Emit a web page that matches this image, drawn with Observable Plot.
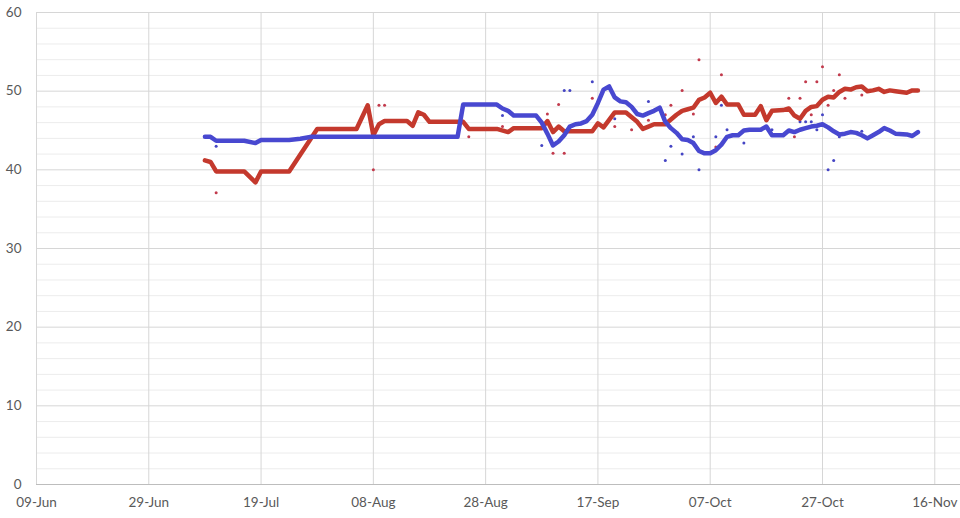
<!DOCTYPE html>
<html>
<head>
<meta charset="utf-8">
<script src="https://cdn.jsdelivr.net/npm/d3@7"></script>
<script src="https://cdn.jsdelivr.net/npm/@observablehq/plot@0.6"></script>
<style>
  body { margin: 0; background: #fff; }
  #chart svg { display: block; }
</style>
</head>
<body>
<div id="chart"></div>
<script>
const year = "2020"

// x ticks every 20 days, y ticks every 10 (minor every 2)
const xTicks = ["06-09", "06-29", "07-19", "08-08", "08-28", "09-17", "10-07", "10-27", "11-16"]
const yTicks = [0, 10, 20, 30, 40, 50, 60]
const yMinor = [2, 4, 6, 8, 12, 14, 16, 18, 22, 24, 26, 28, 32, 34, 36, 38, 42, 44, 46, 48, 52, 54, 56, 58]

// running average, red
const redLine = [
  ["07-09", 41.2], ["07-10", 41.0], ["07-11", 39.8], ["07-16", 39.8], ["07-18", 38.4], ["07-19", 39.8],
  ["07-24", 39.8], ["07-29", 45.2], ["08-05", 45.2], ["08-07", 48.2], ["08-08", 44.4], ["08-09", 45.8],
  ["08-10", 46.2], ["08-14", 46.2], ["08-15", 45.6], ["08-16", 47.3], ["08-17", 47.0], ["08-18", 46.1],
  ["08-24", 46.1], ["08-25", 45.2], ["08-30", 45.2], ["09-01", 44.8], ["09-02", 45.3], ["09-07", 45.3],
  ["09-08", 46.2], ["09-09", 44.8], ["09-10", 45.5], ["09-11", 44.9], ["09-16", 44.9], ["09-17", 45.9],
  ["09-18", 45.4], ["09-20", 47.3], ["09-22", 47.3], ["09-24", 46.1], ["09-25", 45.2], ["09-26", 45.5],
  ["09-27", 45.8], ["09-29", 45.8], ["09-30", 46.4], ["10-01", 47.0], ["10-02", 47.5], ["10-03", 47.7],
  ["10-04", 47.9], ["10-05", 48.9], ["10-06", 49.2], ["10-07", 49.8], ["10-08", 48.5], ["10-09", 49.3],
  ["10-10", 48.3], ["10-12", 48.3], ["10-13", 47.0], ["10-15", 47.0], ["10-16", 48.1], ["10-17", 46.3],
  ["10-18", 47.5], ["10-20", 47.6], ["10-21", 47.8], ["10-22", 46.9], ["10-23", 46.5], ["10-24", 47.5],
  ["10-25", 48.0], ["10-26", 48.1], ["10-27", 48.9], ["10-28", 49.3], ["10-29", 49.2], ["10-30", 49.9],
  ["10-31", 50.3], ["11-01", 50.2], ["11-02", 50.5], ["11-03", 50.6], ["11-04", 50.0], ["11-05", 50.1],
  ["11-06", 50.3], ["11-07", 49.9], ["11-08", 50.1], ["11-09", 50.0], ["11-10", 49.9], ["11-11", 49.8],
  ["11-12", 50.1], ["11-13", 50.1]
]

// running average, blue
const blueLine = [
  ["07-09", 44.2], ["07-10", 44.2], ["07-11", 43.7], ["07-16", 43.7], ["07-18", 43.4], ["07-19", 43.8],
  ["07-24", 43.8], ["07-26", 43.95], ["07-28", 44.2], ["08-23", 44.2], ["08-24", 48.3], ["08-30", 48.3],
  ["08-31", 47.8], ["09-01", 47.5], ["09-02", 46.9], ["09-06", 46.9], ["09-07", 46.0], ["09-08", 44.6],
  ["09-09", 43.1], ["09-10", 43.6], ["09-11", 44.4], ["09-12", 45.5], ["09-13", 45.8], ["09-14", 45.9],
  ["09-15", 46.2], ["09-16", 47.0], ["09-17", 48.5], ["09-18", 50.2], ["09-19", 50.6], ["09-20", 49.2],
  ["09-21", 48.7], ["09-22", 48.6], ["09-23", 48.0], ["09-24", 47.1], ["09-25", 46.9], ["09-26", 47.2],
  ["09-27", 47.5], ["09-28", 47.9], ["09-29", 46.1], ["09-30", 45.3], ["10-01", 44.7], ["10-02", 43.9],
  ["10-03", 43.8], ["10-04", 43.4], ["10-05", 42.4], ["10-06", 42.1], ["10-07", 42.1], ["10-08", 42.5],
  ["10-09", 43.2], ["10-10", 44.2], ["10-11", 44.4], ["10-12", 44.4], ["10-13", 45.0], ["10-14", 45.1],
  ["10-16", 45.1], ["10-17", 45.5], ["10-18", 44.4], ["10-20", 44.4], ["10-21", 45.0], ["10-22", 44.8],
  ["10-23", 45.1], ["10-24", 45.3], ["10-25", 45.5], ["10-26", 45.6], ["10-27", 45.8], ["10-28", 45.4],
  ["10-29", 44.9], ["10-30", 44.5], ["10-31", 44.6], ["11-01", 44.8], ["11-02", 44.7], ["11-03", 44.4],
  ["11-04", 44.0], ["11-05", 44.4], ["11-06", 44.8], ["11-07", 45.3], ["11-08", 45.0], ["11-09", 44.6],
  ["11-11", 44.5], ["11-12", 44.3], ["11-13", 44.8]
]

// single polls
const redPolls = [
  ["07-11", 37.1], ["08-08", 40.0], ["08-09", 48.2], ["08-10", 48.2], ["08-25", 44.2], ["08-31", 45.5],
  ["09-08", 47.1], ["09-09", 42.1], ["09-10", 48.3], ["09-11", 42.1], ["09-16", 49.1], ["09-20", 45.5],
  ["09-23", 45.1], ["09-26", 46.3], ["09-29", 47.0], ["09-30", 48.2], ["10-02", 50.1], ["10-04", 47.1],
  ["10-05", 54.0], ["10-08", 42.9], ["10-09", 52.1], ["10-21", 49.1], ["10-22", 44.2], ["10-23", 49.1],
  ["10-24", 51.2], ["10-25", 47.0], ["10-26", 51.2], ["10-27", 53.1], ["10-28", 48.2], ["10-29", 50.1],
  ["10-30", 52.1], ["10-31", 49.1], ["11-03", 49.5]
]
const bluePolls = [
  ["07-11", 43.0], ["08-31", 46.9], ["09-07", 43.1], ["09-11", 50.1], ["09-12", 50.1], ["09-16", 51.2],
  ["09-20", 46.5], ["09-26", 48.7], ["09-29", 41.2], ["09-30", 43.0], ["10-02", 42.0], ["10-04", 44.2],
  ["10-05", 40.0], ["10-08", 44.2], ["10-09", 48.2], ["10-10", 45.1], ["10-13", 43.4], ["10-18", 45.1],
  ["10-23", 46.1], ["10-24", 46.1], ["10-25", 46.1], ["10-26", 45.1], ["10-27", 47.0], ["10-28", 40.0],
  ["10-29", 41.2], ["10-30", 44.2], ["11-03", 44.9]
]

const day = s => new Date(`${year}-${s}T00:00Z`)
const rows = arr => arr.map(([d, v]) => ({date: day(d), value: v}))

const red = "#c4392d"
const blue = "#4848d0"
const grey = "#595959"

const chart = Plot.plot({
  width: 960,
  height: 518,
  marginLeft: 36,
  marginRight: 0,
  marginTop: 12,
  marginBottom: 34,
  style: {fontFamily: "Lato, 'Open Sans', sans-serif", fontSize: "13.5px", color: grey, background: "#fff"},
  x: {type: "utc", domain: [day("06-09"), new Date(`${year}-11-20T14:00Z`)], axis: null},
  y: {domain: [0, 60], axis: null},
  marks: [
    Plot.gridY(yMinor, {stroke: "#ececec", strokeOpacity: 1}),
    Plot.gridY(yTicks, {stroke: "#d6d6d6", strokeOpacity: 1}),
    Plot.gridX(xTicks.map(day), {stroke: "#d6d6d6", strokeOpacity: 1}),
    Plot.ruleY([0], {stroke: "#bdbdbd", strokeWidth: 1.2}),
    Plot.dot(rows(redPolls), {x: "date", y: "value", r: 1.5, fill: "#c23a4c", stroke: null}),
    Plot.dot(rows(bluePolls), {x: "date", y: "value", r: 1.5, fill: "#4545c4", stroke: null}),
    Plot.line(rows(redLine), {x: "date", y: "value", stroke: red, strokeWidth: 4.5, strokeLinejoin: "round"}),
    Plot.line(rows(blueLine), {x: "date", y: "value", stroke: blue, strokeWidth: 4.5, strokeLinejoin: "round"}),
    Plot.axisX(xTicks.map(day), {tickSize: 0, tickPadding: 13, tickFormat: d3.utcFormat("%d-%b"), fill: grey, label: null}),
    Plot.axisY(yTicks, {tickSize: 0, tickPadding: 15, fill: grey, label: null})
  ]
})

d3.select("#chart").append(() => chart)
</script>
</body>
</html>
